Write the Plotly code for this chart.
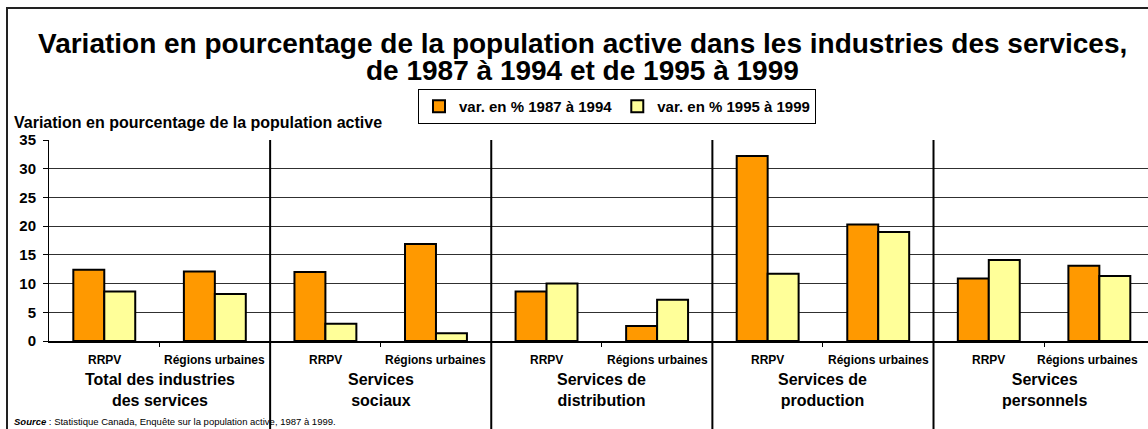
import plotly.graph_objects as go

# Données
groupes = ["Total des industries<br>des services", "Services<br>sociaux", "Services de<br>distribution",
           "Services de<br>production", "Services<br>personnels"]
regions = ["RRPV", "Régions urbaines"]
var_1987_1994 = [12.4, 12.1, 12.0, 16.9, 8.6, 2.6, 32.2, 20.3, 10.9, 13.1]
var_1995_1999 = [8.6, 8.2, 3.0, 1.35, 10.0, 7.2, 11.7, 19.0, 14.1, 11.3]

positions = list(range(len(var_1987_1994)))
etiquettes = regions * len(groupes)

PX_L, PX_T, PX_B = 49, 140, 88
H = 429
plot_h = H - PX_T - PX_B
plot_w = 1148 - PX_L


def py(pix):
    # pixel vertical -> coordonnée papier
    return (H - PX_B - pix) / plot_h


def px(pix):
    return (pix - PX_L) / plot_w


fig = go.Figure()
fig.add_trace(go.Bar(x=positions, y=var_1987_1994, name="var. en % 1987 à 1994",
                     marker=dict(color="#FF9900", line=dict(color="black", width=2))))
fig.add_trace(go.Bar(x=positions, y=var_1995_1999, name="var. en % 1995 à 1999",
                     marker=dict(color="#FFFF99", line=dict(color="black", width=2))))

police = "Liberation Sans, Arial, sans-serif"

fig.update_layout(
    width=1148, height=429,
    margin=dict(l=PX_L, r=0, t=PX_T, b=PX_B),
    plot_bgcolor="white", paper_bgcolor="white",
    font=dict(family=police, color="black"),
    barmode="group", bargap=0.44, bargroupgap=0,
    showlegend=True,
    legend=dict(orientation="h", x=px(617), xanchor="center", y=py(89), yanchor="top",
                bordercolor="black", borderwidth=1, itemwidth=30,
                font=dict(size=15, weight="bold", family=police)),
    xaxis=dict(range=[-0.5, 9.44], tickmode="array", tickvals=positions, showticklabels=False,
               ticks="", showline=True, linecolor="black", linewidth=2, showgrid=False, zeroline=False,
               minor=dict(tickmode="array", tickvals=[p + 0.5 for p in positions[:-1]],
                          ticks="outside", ticklen=4, tickcolor="black")),
    yaxis=dict(range=[0, 35], dtick=5, showgrid=True, gridcolor="#303030", gridwidth=1,
               showline=True, linecolor="black", linewidth=1, ticks="outside", ticklen=5,
               tickcolor="black", tickfont=dict(size=15, weight="bold", family=police),
               zeroline=False, ticklabelstandoff=4),
)

annotations = [
    dict(text="<b>Variation en pourcentage de la population active dans les industries des services,</b>",
         x=px(582), y=py(43), font=dict(size=28)),
    dict(text="<b>de 1987 à 1994 et de 1995 à 1999</b>", x=px(582), y=py(70), font=dict(size=28)),
    dict(text="<b>Variation en pourcentage de la population active</b>", x=px(12), y=py(122.5),
         xanchor="left", font=dict(size=16)),
    dict(text="<b><i>Source</i></b> : Statistique Canada, Enquête sur la population active, 1987 à 1999.",
         x=px(12), y=py(421), xanchor="left", font=dict(size=9.5)),
]
for a in annotations:
    a.setdefault("xanchor", "center")
    a.update(xref="paper", yref="paper", showarrow=False, yanchor="middle")
    a["font"]["family"] = police
fig.update_layout(annotations=annotations)

# étiquettes des régions sous chaque paire de barres
for p, lab in zip(positions, etiquettes):
    decal = -12 if p == positions[-1] else 0
    fig.add_annotation(text="<b>" + lab + "</b>", x=p, xref="x", y=py(360), yref="paper",
                       yanchor="middle", xshift=decal, showarrow=False, font=dict(size=12, family=police))

for i, g in enumerate(groupes):
    fig.add_annotation(text="<b>" + g + "</b>", x=2 * i + 0.5, xref="x", y=py(369), yref="paper",
                       yanchor="top", showarrow=False, font=dict(size=16, family=police))

# séparateurs entre groupes
for i in range(1, len(groupes)):
    fig.add_shape(type="line", xref="x", yref="paper", x0=2 * i - 0.5, x1=2 * i - 0.5,
                  y0=-0.5, y1=1, line=dict(color="black", width=2))

# cadre extérieur
fig.add_shape(type="rect", xref="paper", yref="paper", x0=px(7), x1=1.2, y0=-1, y1=py(8),
              line=dict(color="#222222", width=2))

fig.write_html("out.html", config={"displayModeBar": False},
               post_script="document.body.style.margin='0';")
